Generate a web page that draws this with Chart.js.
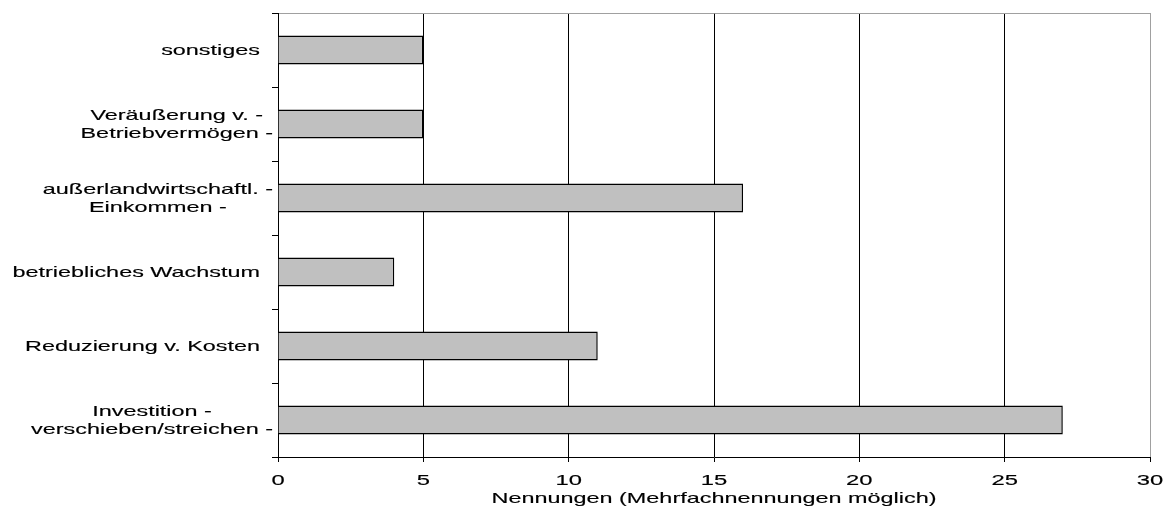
<!DOCTYPE html>
<html lang="de">
<head>
<meta charset="utf-8">
<title>Nennungen</title>
<script src="https://cdn.jsdelivr.net/npm/chart.js@4.4.1/dist/chart.umd.min.js"></script>
<style>
  html, body { margin: 0; padding: 0; background: #fff; }
  canvas { display: block; }
</style>
</head>
<body>
<canvas id="nennungenChart" width="1168" height="513"></canvas>
<script>
const categoryLabels = [
  ["sonstiges"],
  ["Veräußerung v. -", "Betriebvermögen -"],
  ["außerlandwirtschaftl. -", "Einkommen -"],
  ["betriebliches Wachstum"],
  ["Reduzierung v. Kosten"],
  ["Investition -", "verschieben/streichen -"]
];
const nennungen = [5, 5, 16, 4, 11, 27];
const xTickValues = [0, 5, 10, 15, 20, 25, 30];
const xTitle = "Nennungen (Mehrfachnennungen möglich)";

const FONT_FAMILY = "'Liberation Sans', Arial, sans-serif";
const LABEL_STRETCH = 1.56;
const TICK_STRETCH = 1.7;
const LINE_HEIGHT = 18;

// the reference text is wider than any installed font, so it is drawn scaled
function drawStretched(ctx, text, x, y, stretch) {
  ctx.save();
  ctx.translate(x, y);
  ctx.scale(stretch, 1);
  ctx.textAlign = "center";
  ctx.fillText(text, 0, 0);
  ctx.strokeText(text, 0, 0);
  ctx.restore();
}

const stretchedText = {
  id: "stretchedText",
  afterDraw(chart) {
    const { ctx } = chart;
    const xScale = chart.scales.x;
    const yScale = chart.scales.y;

    ctx.save();
    ctx.fillStyle = "#000";
    ctx.strokeStyle = "#000";
    ctx.lineWidth = 0.15;
    ctx.textBaseline = "middle";

    ctx.font = `15px ${FONT_FAMILY}`;
    categoryLabels.forEach((lines, i) => {
      const yc = yScale.getPixelForValue(i) + 1;
      const widest = Math.max(...lines.map((l) => ctx.measureText(l).width)) * LABEL_STRETCH;
      const right = yScale.right - (lines.length > 1 ? 5 : 18);
      const cx = right - widest / 2;
      lines.forEach((line, j) => {
        const ly = yc + (j - (lines.length - 1) / 2) * LINE_HEIGHT;
        drawStretched(ctx, line, cx, ly, LABEL_STRETCH);
      });
    });

    ctx.font = `14px ${FONT_FAMILY}`;
    xScale.ticks.forEach((tick) => {
      drawStretched(ctx, String(tick.value), xScale.getPixelForValue(tick.value), xScale.top + 24, TICK_STRETCH);
    });

    ctx.font = `15px ${FONT_FAMILY}`;
    drawStretched(ctx, xTitle, (xScale.left + xScale.right) / 2, xScale.top + 42, LABEL_STRETCH);

    ctx.restore();
  }
};

const canvas = document.getElementById("nennungenChart");

new Chart(canvas, {
  type: "bar",
  data: {
    labels: categoryLabels,
    datasets: [
      {
        data: nennungen,
        backgroundColor: "#c0c0c0",
        borderColor: "#000",
        borderWidth: 1.5,
        barPercentage: 0.39,
        categoryPercentage: 1
      }
    ]
  },
  options: {
    indexAxis: "y",
    responsive: false,
    animation: false,
    devicePixelRatio: 1,
    layout: {
      padding: { top: 13, right: 18, left: 0, bottom: 0 }
    },
    plugins: {
      legend: { display: false },
      tooltip: { enabled: false }
    },
    scales: {
      x: {
        type: "linear",
        min: 0,
        max: 30,
        afterBuildTicks(scale) {
          scale.ticks = xTickValues.map((value) => ({ value }));
        },
        afterFit(scale) {
          scale.height = 56;
        },
        ticks: { display: false },
        grid: {
          color: (ctx) => (ctx.tick && ctx.tick.value === 30 ? "#a0a0a0" : "#000"),
          tickColor: "#000",
          tickLength: 5,
          lineWidth: 1
        },
        border: { color: "#000", width: 1 }
      },
      y: {
        afterFit(scale) {
          scale.width = 278;
        },
        ticks: { display: false },
        grid: {
          offset: true,
          color: (ctx) => (ctx.index === 0 ? "#a0a0a0" : "transparent"),
          tickColor: "#000",
          tickLength: 6,
          lineWidth: 1
        },
        border: { color: "#000", width: 1 }
      }
    }
  },
  plugins: [stretchedText]
});
</script>
</body>
</html>
